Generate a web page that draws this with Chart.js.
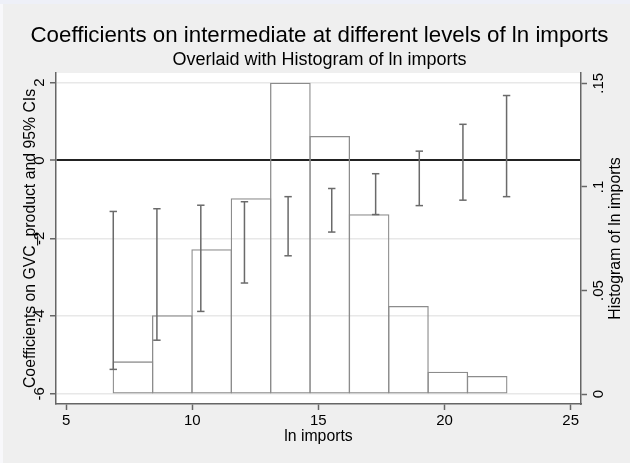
<!DOCTYPE html>
<html>
<head>
<meta charset="utf-8">
<script src="https://cdn.jsdelivr.net/npm/chart.js@4.4.0/dist/chart.umd.min.js"></script>
<style>
  html, body { margin: 0; padding: 0; background: #efefef; }
  canvas { display: block; }
</style>
</head>
<body>
<canvas id="coefChart" width="630" height="463"></canvas>
<script>
// --- Histogram of ln imports (density per bin) ---
const binCenters = [7.65, 9.21, 10.77, 12.33, 13.89, 15.45, 17.01, 18.57, 20.13, 21.69];
const binDensity = [0.0158, 0.0381, 0.0699, 0.0945, 0.1503, 0.1246, 0.0868, 0.0425, 0.0108, 0.0087];

// --- Coefficients: 95% CI at each level of ln imports ---
const ciLevels = [6.87, 8.60, 10.34, 12.07, 13.80, 15.53, 17.27, 19.00, 20.73, 22.46];
const ciLow  = [-5.37, -4.62, -3.88, -3.15, -2.45, -1.84, -1.39, -1.16, -1.02, -0.93];
const ciHigh = [-1.31, -1.24, -1.15, -1.06, -0.93, -0.72, -0.34, 0.24, 0.93, 1.67];

// --- Axis ticks ---
const xTicks = [5, 10, 15, 20, 25];
const coefTicks = [-6, -4, -2, 0, 2];
const histTicks = [0, 0.05, 0.1, 0.15];
const histTickLabels = ['0', '.05', '.1', '.15'];

const FONT = '"Liberation Sans", Arial, Helvetica, sans-serif';
const AXIS = '#666';

// grey frame + white plot region, Stata style
const backdrop = {
  id: 'backdrop',
  beforeDraw(chart) {
    const { ctx, chartArea: a, width, height } = chart;
    ctx.save();
    ctx.fillStyle = '#efefef';
    ctx.fillRect(0, 0, width, height);
    ctx.fillStyle = '#eef0f8';
    ctx.fillRect(0, 0, width, 4);
    ctx.fillStyle = '#f8f8fb';
    ctx.fillRect(0, 4, 3, height - 4);
    ctx.fillStyle = '#fff';
    ctx.fillRect(a.left, a.top, a.right - a.left, a.bottom - a.top);
    ctx.restore();
  }
};

// right axis title reads bottom to top (Chart.js would turn it the other way)
const rightTitle = {
  id: 'rightTitle',
  afterDraw(chart) {
    const { ctx, chartArea: a } = chart;
    const s = chart.scales.y2;
    ctx.save();
    ctx.translate(s.right - 14, (a.top + a.bottom) / 2);
    ctx.rotate(-Math.PI / 2);
    ctx.font = '15.8px ' + FONT;
    ctx.fillStyle = '#000';
    ctx.textAlign = 'center';
    ctx.textBaseline = 'middle';
    ctx.fillText('Histogram of ln imports', 0, 0);
    ctx.restore();
  }
};

const tickFont = { family: FONT, size: 15 };
const titleFont = { family: FONT, size: 15.8 };

new Chart(document.getElementById('coefChart'), {
  type: 'scatter',
  data: {
    datasets: [
      {
        type: 'scatter',
        data: ciLevels.flatMap((x, i) => [{ x, y: ciLow[i] }, { x, y: ciHigh[i] }]),
        xAxisID: 'x', yAxisID: 'y',
        pointStyle: 'line',
        pointRadius: 3.7,
        pointBorderColor: '#6a6a6a',
        pointBorderWidth: 1.5
      },
      {
        type: 'line',
        data: ciLevels.flatMap((x, i) => [{ x, y: ciLow[i] }, { x, y: ciHigh[i] }, { x, y: null }]),
        xAxisID: 'x', yAxisID: 'y',
        showLine: true,
        spanGaps: false,
        borderColor: '#6a6a6a',
        borderWidth: 1.5,
        pointRadius: 0
      },
      {
        type: 'bar',
        data: binCenters.map((x, i) => ({ x, y: binDensity[i] })),
        xAxisID: 'x', yAxisID: 'y2',
        backgroundColor: 'rgba(0,0,0,0)',
        borderColor: '#8c8c8c',
        borderWidth: 1.3,
        borderSkipped: false,
        inflateAmount: 0,
        barPercentage: 1.033,
        categoryPercentage: 1
      }
    ]
  },
  options: {
    responsive: false,
    animation: false,
    devicePixelRatio: 1,
    events: [],
    layout: { padding: { left: 9, right: 0, top: 0, bottom: 0 } },
    plugins: {
      legend: { display: false },
      tooltip: { enabled: false },
      title: {
        display: true,
        text: 'Coefficients on intermediate at different levels of ln imports',
        color: '#000',
        font: { family: FONT, size: 22.3, weight: 'normal' },
        padding: { top: 22, bottom: 0.4 }
      },
      subtitle: {
        display: true,
        text: 'Overlaid with Histogram of ln imports',
        color: '#000',
        font: { family: FONT, size: 18, weight: 'normal' },
        padding: { top: 0, bottom: 2.2 }
      }
    },
    scales: {
      x: {
        type: 'linear',
        position: 'bottom',
        min: 4.6, max: 25.41,
        offset: false,
        afterBuildTicks: s => { s.ticks = xTicks.map(v => ({ value: v })); },
        afterFit: s => { s.height = 59; },
        grid: { drawOnChartArea: false, offset: false, tickLength: 6, tickColor: AXIS, tickWidth: 1.5 },
        border: { color: AXIS, width: 1.5 },
        ticks: { font: tickFont, color: '#000', padding: 2, maxRotation: 0 },
        title: { display: true, text: 'ln imports', color: '#000', font: titleFont, padding: { top: 0, bottom: 16.4 } }
      },
      y: {
        type: 'linear',
        position: 'left',
        min: -6.26, max: 2.25,
        afterBuildTicks: s => { s.ticks = coefTicks.map(v => ({ value: v })); },
        afterFit: s => { s.width = 47; },
        grid: {
          color: c => (c.tick && c.tick.value === 0) ? '#222' : '#e8e8e8',
          lineWidth: c => (c.tick && c.tick.value === 0) ? 2 : 1.5,
          tickLength: 6, tickColor: AXIS, tickWidth: 1.5
        },
        border: { color: AXIS, width: 1.5 },
        ticks: { font: tickFont, color: '#000', padding: 3.3, minRotation: 90, maxRotation: 90, crossAlign: 'center' },
        title: { display: true, text: 'Coefficients on GVC_product and 95% CIs', color: '#000', font: titleFont, padding: { top: 12.4, bottom: 0 } }
      },
      y2: {
        type: 'linear',
        position: 'right',
        min: -0.0048, max: 0.155,
        afterBuildTicks: s => { s.ticks = histTicks.map(v => ({ value: v })); },
        afterFit: s => { s.width = 49; },
        grid: { drawOnChartArea: false, tickLength: 6, tickColor: AXIS, tickWidth: 1.5 },
        border: { color: AXIS, width: 1.5 },
        ticks: {
          font: tickFont, color: '#000', padding: 1, minRotation: 90, maxRotation: 90, crossAlign: 'center',
          callback: v => histTickLabels[histTicks.indexOf(v)]
        }
      }
    }
  },
  plugins: [backdrop, rightTitle]
});
</script>
</body>
</html>
